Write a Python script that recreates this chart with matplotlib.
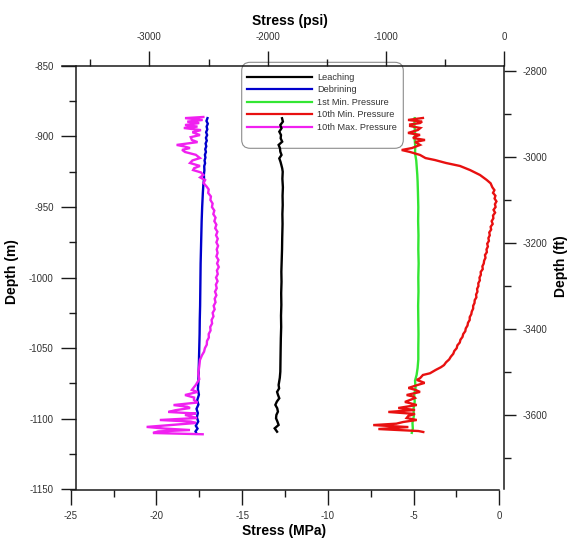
import matplotlib
matplotlib.use("Agg")
import matplotlib.pyplot as plt
from matplotlib.patches import FancyBboxPatch
from matplotlib.lines import Line2D
from matplotlib.ticker import MultipleLocator

plt.rcParams['font.family'] = ['Liberation Sans', 'DejaVu Sans']
plt.rcParams['axes.unicode_minus'] = False

# depth (m) / stress (MPa)
leach_depth = [-887.1, -889.5, -891.9, -894.2, -896.6, -899.0, -901.3, -903.7, -906.0, -908.4,
               -910.8, -913.1, -915.5, -917.9, -920.2, -922.6, -925.0, -930.0, -936.0, -942.0,
               -948.6, -955.0, -962.0, -972.1, -980.0, -988.0, -995.8, -1003.0, -1011.0, -1019.4,
               -1027.0, -1035.0, -1043.0, -1050.0, -1058.0, -1066.7, -1071.0, -1076.1, -1078.5, -1081.0,
               -1083.3, -1085.5, -1087.8, -1090.2, -1092.6, -1095.0, -1097.3, -1099.7, -1102.0, -1104.4,
               -1106.8, -1109.2]
leach_stress = [-12.67, -12.62, -12.77, -12.70, -12.83, -12.73, -12.75, -12.66, -12.87, -12.79,
                -12.77, -12.70, -12.83, -12.76, -12.71, -12.66, -12.63, -12.65, -12.62, -12.64,
                -12.63, -12.65, -12.64, -12.66, -12.67, -12.69, -12.71, -12.70, -12.72, -12.71,
                -12.73, -12.72, -12.74, -12.75, -12.76, -12.77, -12.80, -12.87, -12.84, -12.96,
                -12.90, -12.83, -12.97, -13.06, -12.95, -12.91, -13.00, -13.02, -12.94, -12.87,
                -13.10, -12.96]

debrine_depth = [-887.0, -889.0, -891.0, -893.0, -895.0, -897.0, -899.0, -901.0, -903.0, -905.0,
                 -907.0, -909.0, -911.0, -913.0, -915.0, -917.0, -919.0, -921.0, -924.0, -927.0,
                 -930.0, -934.0, -940.0, -950.0, -960.0, -970.0, -980.0, -990.0, -1000.0, -1010.0,
                 -1020.0, -1030.0, -1040.0, -1050.0, -1060.0, -1068.0, -1074.0, -1079.0, -1083.0, -1087.0,
                 -1090.0, -1093.0, -1096.0, -1099.0, -1102.0, -1105.0, -1107.0, -1109.0, -1110.5]
debrine_stress = [-17.02, -17.08, -17.00, -17.07, -17.03, -17.10, -17.04, -17.11, -17.06, -17.13,
                  -17.09, -17.15, -17.11, -17.17, -17.14, -17.19, -17.16, -17.21, -17.20, -17.23,
                  -17.22, -17.26, -17.29, -17.33, -17.36, -17.38, -17.40, -17.42, -17.43, -17.44,
                  -17.45, -17.47, -17.48, -17.50, -17.52, -17.54, -17.55, -17.58, -17.52, -17.62,
                  -17.55, -17.66, -17.58, -17.64, -17.56, -17.70, -17.60, -17.72, -17.66]

min1_depth = [-887.0, -892.0, -897.0, -902.0, -907.0, -912.0, -917.0, -922.0, -927.0, -932.0,
              -940.0, -950.0, -960.0, -970.0, -980.0, -990.0, -1000.0, -1010.0, -1020.0, -1030.0,
              -1040.0, -1050.0, -1058.0, -1064.0, -1069.0, -1073.0, -1078.0, -1083.0, -1088.0, -1093.0,
              -1098.0, -1103.0, -1107.0, -1110.0]
min1_stress = [-4.93, -4.95, -4.91, -4.93, -4.90, -4.91, -4.84, -4.81, -4.78, -4.76,
               -4.74, -4.72, -4.73, -4.71, -4.72, -4.70, -4.72, -4.71, -4.73, -4.72,
               -4.71, -4.72, -4.72, -4.76, -4.82, -4.91, -4.88, -4.96, -4.93, -5.00,
               -4.98, -5.06, -5.04, -5.10]

min10_depth = [-886.9, -888.3, -889.5, -890.5, -891.5, -892.6, -894.0, -895.4, -897.5, -898.9,
               -900.0, -901.1, -902.5, -903.9, -906.0, -908.2, -909.6, -911.0, -913.1, -915.3,
               -916.7, -918.8, -920.9, -923.8, -927.3, -930.8, -933.2, -936.0, -938.0, -940.0,
               -942.0, -944.0, -946.0, -948.0, -950.0, -952.0, -954.0, -956.0, -958.0, -960.0,
               -962.0, -964.0, -966.0, -968.0, -970.0, -972.0, -974.0, -976.0, -978.0, -980.0,
               -982.0, -984.0, -986.0, -988.0, -990.0, -992.0, -994.0, -996.0, -998.0, -1000.0,
               -1002.0, -1004.0, -1006.0, -1008.0, -1010.0, -1012.0, -1014.0, -1016.0, -1018.0, -1020.0,
               -1022.0, -1024.0, -1026.0, -1028.0, -1030.0, -1032.0, -1034.0, -1036.0, -1038.0, -1040.0,
               -1042.0, -1044.0, -1046.0, -1048.0, -1050.0, -1052.0, -1054.0, -1056.0, -1058.0, -1060.0,
               -1062.0, -1063.5, -1065.4, -1067.8, -1069.0, -1071.3, -1072.5, -1074.6, -1076.0, -1078.2,
               -1079.5, -1081.0, -1083.2, -1084.3, -1085.3, -1088.1, -1089.0, -1090.3, -1092.4, -1093.8,
               -1095.2, -1096.6, -1098.0, -1099.5, -1100.9, -1102.3, -1103.5, -1104.5, -1105.9, -1107.3,
               -1108.7, -1109.4]
min10_stress = [-4.45, -5.32, -4.50, -4.62, -5.20, -5.20, -4.60, -4.74, -5.32, -4.62,
                -4.90, -5.03, -4.33, -4.91, -4.62, -5.09, -5.69, -5.20, -4.62, -4.30,
                -3.75, -3.10, -2.29, -1.70, -1.12, -0.73, -0.50, -0.40, -0.28, -0.36,
                -0.22, -0.27, -0.16, -0.25, -0.21, -0.33, -0.24, -0.36, -0.34, -0.44,
                -0.38, -0.50, -0.47, -0.58, -0.55, -0.63, -0.60, -0.70, -0.66, -0.74,
                -0.72, -0.83, -0.80, -0.88, -0.90, -0.98, -0.96, -1.08, -1.07, -1.15,
                -1.13, -1.22, -1.21, -1.29, -1.27, -1.35, -1.33, -1.43, -1.44, -1.52,
                -1.52, -1.60, -1.63, -1.72, -1.72, -1.82, -1.85, -1.95, -1.98, -2.10,
                -2.14, -2.26, -2.30, -2.44, -2.48, -2.62, -2.68, -2.82, -2.92, -3.10,
                -3.22, -3.40, -3.70, -4.04, -4.45, -4.62, -4.81, -4.35, -4.74, -5.30,
                -4.90, -4.62, -5.40, -5.00, -4.91, -5.50, -5.20, -4.81, -5.89, -4.91,
                -6.47, -4.91, -5.30, -5.40, -4.81, -5.60, -6.00, -7.35, -5.30, -7.05,
                -4.72, -4.43]

max10_depth = [-886.2, -887.0, -888.3, -889.5, -890.5, -891.9, -893.0, -894.0, -895.5, -897.0,
               -899.0, -900.5, -902.5, -904.0, -906.0, -907.0, -908.2, -909.5, -911.0, -913.0,
               -915.3, -917.0, -918.8, -920.9, -922.5, -923.8, -925.5, -927.3, -929.0, -930.9,
               -933.0, -935.5, -937.5, -940.0, -942.5, -945.0, -947.5, -950.0, -952.5, -955.0,
               -957.5, -960.0, -962.5, -965.0, -967.5, -970.0, -972.5, -975.0, -977.5, -980.0,
               -982.5, -985.0, -987.5, -990.0, -992.5, -995.0, -997.5, -1000.0, -1002.5, -1005.0,
               -1007.5, -1010.0, -1012.5, -1015.0, -1017.5, -1020.0, -1022.5, -1025.0, -1027.5, -1030.0,
               -1032.5, -1035.0, -1037.5, -1040.0, -1042.5, -1045.0, -1047.5, -1050.0, -1052.5, -1055.0,
               -1058.4, -1063.0, -1067.8, -1072.0, -1076.0, -1079.6, -1081.0, -1083.2, -1085.0, -1086.7,
               -1088.5, -1090.3, -1091.5, -1092.4, -1094.0, -1095.2, -1096.3, -1097.3, -1099.5, -1100.9,
               -1102.0, -1103.0, -1104.5, -1105.8, -1107.0, -1108.0, -1109.0, -1110.1, -1111.0]
max10_stress = [-17.26, -18.33, -17.30, -18.20, -17.50, -18.33, -17.60, -18.40, -17.40, -17.90,
                -17.46, -18.00, -17.93, -17.60, -18.82, -18.40, -18.04, -18.50, -18.33, -17.70,
                -17.46, -17.90, -18.04, -17.46, -17.80, -17.86, -17.40, -17.26, -17.45, -17.16,
                -17.25, -17.07, -16.95, -16.98, -16.82, -16.85, -16.72, -16.76, -16.62, -16.68,
                -16.55, -16.62, -16.50, -16.57, -16.44, -16.52, -16.42, -16.50, -16.40, -16.48,
                -16.43, -16.50, -16.38, -16.46, -16.36, -16.47, -16.42, -16.52, -16.43, -16.53,
                -16.48, -16.58, -16.50, -16.60, -16.55, -16.66, -16.60, -16.72, -16.67, -16.78,
                -16.75, -16.86, -16.84, -16.95, -16.94, -17.05, -17.06, -17.17, -17.22, -17.34,
                -17.46, -17.50, -17.56, -17.50, -17.70, -17.93, -17.60, -18.33, -17.80, -17.81,
                -17.60, -19.00, -18.20, -18.04, -18.90, -19.30, -17.70, -18.33, -17.63, -19.80,
                -18.00, -17.69, -19.20, -20.57, -19.50, -18.04, -19.90, -20.20, -17.30]

series_names = ['Leaching', 'Debrining', '1st Min. Pressure', '10th Min. Pressure', '10th Max. Pressure']
series_colors = ['#000000', '#0000CC', '#33E633', '#E81010', '#F020F0']

mpa_ticks = [-25, -20, -15, -10, -5, 0]
psi_ticks = [-3000, -2000, -1000, 0]
m_ticks = [-850, -900, -950, -1000, -1050, -1100, -1150]
ft_ticks = [-2800, -3000, -3200, -3400, -3600]

W, H = 568, 540
AX_COLOR = '#1a1a1a'
TICK_TXT = '#333333'


def px_box(x0, x1, ytop, ybot):
    # figure pixel box -> fig fraction rect
    return [x0 / W, 1 - ybot / H, (x1 - x0) / W, (ybot - ytop) / H]


def style_ticks(ax, axis):
    ax.tick_params(axis=axis, which='major', length=10.5, width=1.0, color=AX_COLOR,
                   labelsize=7, labelcolor=TICK_TXT, direction='out')
    ax.tick_params(axis=axis, which='minor', length=5.2, width=1.0, color=AX_COLOR, direction='out')


def main():
    fig = plt.figure(figsize=(W / 100, H / 100), dpi=100)

    # main axes: MPa on x (bottom), m on y (left)
    ax = fig.add_axes(px_box(70.7, 499.2, 65.9, 489.3))
    ax.patch.set_visible(False)
    ax.set_xlim(-25, 0)
    ax.set_ylim(-1150, -850)
    for s in ['top', 'right']:
        ax.spines[s].set_visible(False)
    for s in ['left', 'bottom']:
        ax.spines[s].set_linewidth(1.1)
        ax.spines[s].set_color(AX_COLOR)
    ax.spines['left'].set_position(('outward', -3.8))
    ax.spines['bottom'].set_position(('outward', 0.8))
    ax.set_xticks(mpa_ticks)
    ax.xaxis.set_minor_locator(MultipleLocator(2.5))
    ax.set_yticks(m_ticks)
    ax.yaxis.set_minor_locator(MultipleLocator(25))
    style_ticks(ax, 'x')
    style_ticks(ax, 'y')
    ax.tick_params(axis='x', which='major', pad=4.5)
    ax.tick_params(axis='y', which='major', pad=5.5)

    data = [(leach_stress, leach_depth), (debrine_stress, debrine_depth), (min1_stress, min1_depth),
            (min10_stress, min10_depth), (max10_stress, max10_depth)]
    zorders = [6, 3, 3, 4, 4]
    for (x, y), c, z in zip(data, series_colors, zorders):
        ax.plot(x, y, color=c, lw=1.7, zorder=z, solid_joinstyle='miter')

    # top axis in psi
    axt = fig.add_axes(px_box(61.6, 504.3, 65.9, 489.3))
    axt.patch.set_visible(False)
    axt.set_xlim(-3742, 0)
    axt.set_ylim(0, 1)
    for s in ['bottom', 'left', 'right']:
        axt.spines[s].set_visible(False)
    axt.spines['top'].set_linewidth(1.1)
    axt.spines['top'].set_color(AX_COLOR)
    axt.set_yticks([])
    axt.xaxis.tick_top()
    axt.set_xticks(psi_ticks)
    axt.xaxis.set_minor_locator(MultipleLocator(500))
    style_ticks(axt, 'x')
    axt.tick_params(axis='x', which='major', pad=6.5)

    # right axis in ft
    axr = fig.add_axes(px_box(70.7, 504.3, 65.9, 489.3))
    axr.patch.set_visible(False)
    axr.set_ylim(-1150 / 0.3048, -850 / 0.3048)
    for s in ['bottom', 'left', 'top']:
        axr.spines[s].set_visible(False)
    axr.spines['right'].set_linewidth(1.1)
    axr.spines['right'].set_color(AX_COLOR)
    axr.set_xticks([])
    axr.yaxis.tick_right()
    axr.set_yticks(ft_ticks)
    axr.yaxis.set_minor_locator(MultipleLocator(100))
    style_ticks(axr, 'y')
    axr.tick_params(axis='y', which='major', length=8.5, pad=4.5)

    # axis titles
    fig.text(290 / W, 1 - 20.6 / H, 'Stress (psi)', ha='center', va='center', fontsize=10, fontweight='bold')
    fig.text(284 / W, 1 - 531 / H, 'Stress (MPa)', ha='center', va='center', fontsize=10, fontweight='bold')
    fig.text(12 / W, 1 - 272 / H, 'Depth (m)', ha='center', va='center', rotation=90,
             fontsize=10, fontweight='bold')
    fig.text(561 / W, 1 - 266 / H, 'Depth (ft)', ha='center', va='center', rotation=90,
             fontsize=10, fontweight='bold')

    # legend box with rounded corners, drawn under the curves
    box = FancyBboxPatch((241.7 / W, 1 - 148.3 / H), 161.6 / W, 86 / H,
                         boxstyle='round,pad=0,rounding_size=0.015', mutation_aspect=W / H,
                         transform=fig.transFigure, facecolor='white', edgecolor='#8c8c8c',
                         lw=0.8, zorder=-1)
    fig.add_artist(box)
    handles = [Line2D([], [], color=c, lw=1.6) for c in series_colors]
    leg = ax.legend(handles, series_names, loc='upper left', frameon=False,
                    bbox_to_anchor=(246.7 / W, 1 - 73 / H), bbox_transform=fig.transFigure,
                    borderpad=0, borderaxespad=0, fontsize=6.6, handlelength=7.1,
                    handletextpad=0.6, labelspacing=0.38)
    leg.set_zorder(1)
    for t in leg.get_texts():
        t.set_color('#333333')

    fig.savefig('out.png', dpi=100)


if __name__ == "__main__":
    main()
